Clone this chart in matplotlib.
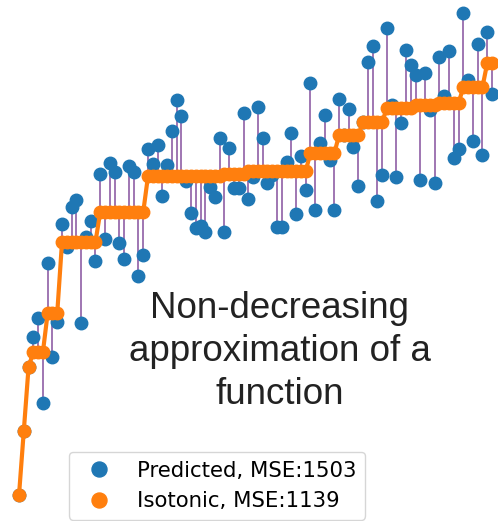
import numpy as np
import matplotlib
matplotlib.use("Agg")
from matplotlib import pyplot as plt

# sample index and the two series
x = np.arange(100)

y_pred = [5, 69, 133, 163, 182, 97, 237, 143, 178, 276,
          253, 293, 300, 177, 263, 279, 239, 326, 261, 337,
          328, 257, 241, 334, 328, 224, 245, 351, 336, 355,
          304, 335, 369, 400, 384, 319, 287, 272, 274, 268,
          313, 303, 362, 268, 352, 312, 312, 387, 301, 323,
          393, 362, 317, 325, 273, 273, 338, 367, 286, 344,
          310, 417, 290, 357, 385, 340, 290, 401, 365, 391,
          353, 314, 378, 438, 454, 299, 325, 472, 395, 323,
          377, 450, 435, 425, 320, 427, 390, 317, 443, 404,
          449, 342, 351, 487, 420, 359, 456, 345, 468, 406]

y_iso = [5, 69, 133, 148, 148, 148, 187, 187, 187, 258,
         258, 258, 258, 258, 258, 258, 258, 288, 288, 288,
         288, 288, 288, 288, 288, 288, 288, 324, 324, 324,
         324, 324, 324, 324, 324, 324, 324, 324, 324, 324,
         324, 324, 324, 326, 326, 326, 326, 326, 329, 329,
         329, 329, 329, 329, 329, 329, 329, 329, 329, 329,
         329, 347, 347, 347, 347, 347, 347, 365, 365, 365,
         365, 365, 378, 378, 378, 378, 378, 392, 392, 392,
         392, 392, 392, 395, 395, 395, 395, 395, 397, 397,
         397, 397, 397, 413, 413, 413, 413, 413, 437, 437]

labels = ["Predicted, MSE:1503", "Isotonic, MSE:1139"]
title = "Non-decreasing\napproximation of a\nfunction"

fig = plt.figure(figsize=(4.98, 5.21), dpi=100)
ax = fig.add_axes([0, 0, 1, 1])
ax.axis("off")

ax.vlines(x, y_pred, y_iso, color="#8f5fa6", linewidth=1.2, zorder=1)
ax.plot(x, y_pred, "o", color="#1f77b4", markersize=9, zorder=2, label=labels[0])
ax.plot(x, y_iso, "-", color="#ff7f0e", linewidth=3, zorder=3)
ax.plot(x, y_iso, "o", color="#ff7f0e", markersize=9, zorder=3, label=labels[1])

ax.set_xlim(-3.98, 100.25)
ax.set_ylim(-21, 500)

ax.text(0.562, 0.325, title, transform=ax.transAxes, ha="center", va="center",
        fontsize=26.5, family="Liberation Sans", color="#222222", linespacing=1.3)

ax.legend(loc="upper left", bbox_to_anchor=(0.1386, 0.1324), borderaxespad=0,
          fontsize=15.3, markerscale=1.2)

fig.savefig("out.png", dpi=100)
